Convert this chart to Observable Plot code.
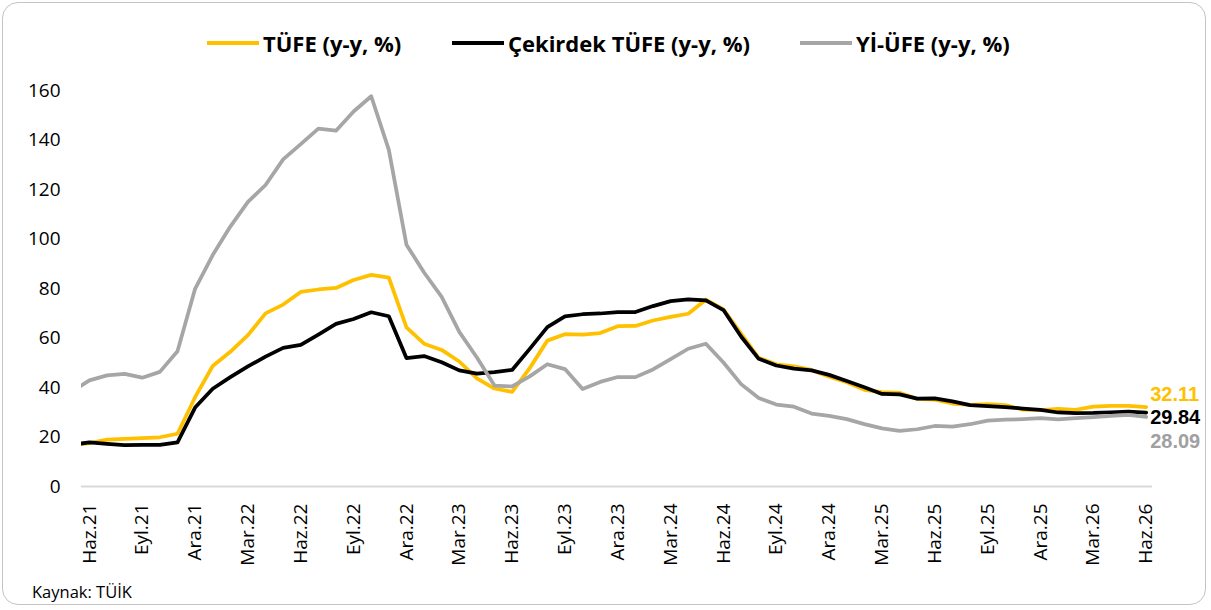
<!DOCTYPE html>
<html>
<head>
<meta charset="utf-8">
<script src="https://cdn.jsdelivr.net/npm/d3@7"></script>
<script src="https://cdn.jsdelivr.net/npm/@observablehq/plot@0.6"></script>
<style>
  html, body { margin: 0; padding: 0; background: #fff; }
  #wrap { position: relative; width: 1211px; height: 610px; overflow: hidden; font-family: "Open Sans", sans-serif; }
  #frame { position: absolute; left: 2px; top: 2px; width: 1204px; height: 603px; box-sizing: border-box;
           border: 1.5px solid #c4c4c4; border-radius: 16px; }
  .leg { position: absolute; top: 30px; height: 26px; display: flex; align-items: center;
         font-weight: 700; font-size: 22px; color: #000; white-space: nowrap; }
  .sw { width: 52px; height: 4px; margin-right: 4px; }
  #chart { position: absolute; left: 0; top: 70px; }
  #caption { position: absolute; left: 32px; top: 580px; font-size: 16.5px; color: #000; }
</style>
</head>
<body>
<div id="wrap">
  <div id="frame"></div>
  <div class="leg" style="left:207px"><div class="sw" style="background:#FFC000"></div><span>TÜFE (y-y, %)</span></div>
  <div class="leg" style="left:452px"><div class="sw" style="background:#000"></div><span>Çekirdek TÜFE (y-y, %)</span></div>
  <div class="leg" style="left:800px"><div class="sw" style="background:#A6A6A6"></div><span>Yİ-ÜFE (y-y, %)</span></div>
  <div id="chart"></div>
  <div id="caption">Kaynak: TÜİK</div>
</div>
<script>
// Monthly observations, May 2021 (index -1) to June 2026 (index 60)
const tufe = [
  16.59, 17.53, 18.95, 19.25, 19.58, 19.89, 21.31, 36.08,
  48.69, 54.44, 61.14, 69.97, 73.50, 78.62, 79.60, 80.21, 83.45, 85.51, 84.39, 64.27,
  57.68, 55.18, 50.51, 43.68, 39.59, 38.21, 47.83, 58.94, 61.53, 61.36, 61.98, 64.77,
  64.86, 67.07, 68.50, 69.80, 75.45, 71.60, 61.78, 51.97, 49.38, 48.58, 47.09, 44.38,
  42.12, 39.05, 38.10, 37.86, 35.41, 35.05, 33.52, 32.95, 33.29, 32.87, 31.07, 30.89,
  31.40, 31.00, 32.30, 32.60, 32.60, 32.11
];
const cekirdek = [
  16.9, 17.8, 17.2, 16.7, 16.8, 16.8, 17.8, 31.9,
  39.5, 44.2, 48.5, 52.5, 56.0, 57.2, 61.4, 65.7, 67.7, 70.4, 68.8, 51.9,
  52.7, 50.2, 46.9, 45.6, 46.2, 47.1, 55.6, 64.4, 68.7, 69.6, 69.9, 70.5,
  70.5, 72.9, 74.9, 75.6, 75.2, 71.3, 60.6, 51.6, 48.9, 47.6, 46.9, 45.1,
  42.6, 40.1, 37.4, 37.2, 35.5, 35.6, 34.4, 32.9, 32.5, 32.1, 31.5, 31.0,
  29.9, 29.6, 29.7, 30.0, 30.3, 29.84
];
const yiufe = [
  38.33, 42.89, 44.92, 45.52, 43.96, 46.31, 54.62, 79.89,
  93.53, 105.01, 114.97, 121.82, 132.16, 138.31, 144.61, 143.75, 151.50, 157.69, 136.02, 97.72,
  86.46, 76.61, 62.45, 52.11, 40.76, 40.42, 44.50, 49.41, 47.44, 39.39, 42.25, 44.22,
  44.20, 47.29, 51.47, 55.66, 57.68, 50.09, 41.37, 35.75, 33.09, 32.24, 29.47, 28.52,
  27.20, 25.21, 23.50, 22.50, 23.13, 24.45, 24.19, 25.16, 26.59, 27.00, 27.23, 27.60,
  27.10, 27.60, 28.00, 28.50, 28.90, 28.09
];
const tickLabels = ["Haz.21","Eyl.21","Ara.21","Mar.22","Haz.22","Eyl.22","Ara.22","Mar.23","Haz.23","Eyl.23",
  "Ara.23","Mar.24","Haz.24","Eyl.24","Ara.24","Mar.25","Haz.25","Eyl.25","Ara.25","Mar.26","Haz.26"];
const yTicks = [0, 20, 40, 60, 80, 100, 120, 140, 160];
const seriesNames = ["TÜFE (y-y, %)", "Çekirdek TÜFE (y-y, %)", "Yİ-ÜFE (y-y, %)"];
const seriesColors = ["#FFC000", "#000000", "#A6A6A6"];
const labelColors = ["#FFC000", "#000000", "#A0A0A0"];
const labelDy = [-12.5, 5, 25];

const firstIndex = -1;
const rows = [];
[tufe, cekirdek, yiufe].forEach((arr, s) => {
  arr.forEach((v, i) => rows.push({series: seriesNames[s], t: firstIndex + i, v}));
});
const tickPos = tickLabels.map((_, i) => i * 3);
const lastIdx = firstIndex + tufe.length - 1;

const marks = [
  Plot.ruleY([0], {stroke: "#D9D9D9", strokeWidth: 2}),
  Plot.axisY({ticks: yTicks, tickSize: 0, tickPadding: 21, fontSize: 19, label: null}),
  Plot.axisX({ticks: tickPos, tickFormat: d => tickLabels[Math.round(d / 3)], tickRotate: -90,
    tickSize: 0, tickPadding: 17, fontSize: 19, label: null})
];
seriesNames.forEach((name, s) => {
  marks.push(Plot.line(rows.filter(r => r.series === name), {
    x: "t", y: "v", stroke: seriesColors[s], strokeWidth: 3.75,
    strokeLinejoin: "round", strokeLinecap: "round", clip: true
  }));
});
[tufe, cekirdek, yiufe].forEach((arr, s) => {
  marks.push(Plot.text([{t: lastIdx, v: arr[arr.length - 1]}], {
    x: "t", y: "v", text: d => d.v.toFixed(2), textAnchor: "start", dx: 4, dy: labelDy[s],
    fill: labelColors[s], fontWeight: 700, fontSize: 20, fontFamily: "'Liberation Sans', Arial, sans-serif"
  }));
});

const chart = Plot.plot({
  width: 1211,
  height: 510,
  marginLeft: 81,
  marginRight: 59,
  marginTop: 20,
  marginBottom: 94,
  x: {type: "linear", domain: [-0.45, 60.36]},
  y: {domain: [0, 160]},
  style: {fontFamily: "'Open Sans', sans-serif", color: "#000", background: "transparent", overflow: "visible"},
  marks
});
document.getElementById("chart").appendChild(chart);
</script>
</body>
</html>
